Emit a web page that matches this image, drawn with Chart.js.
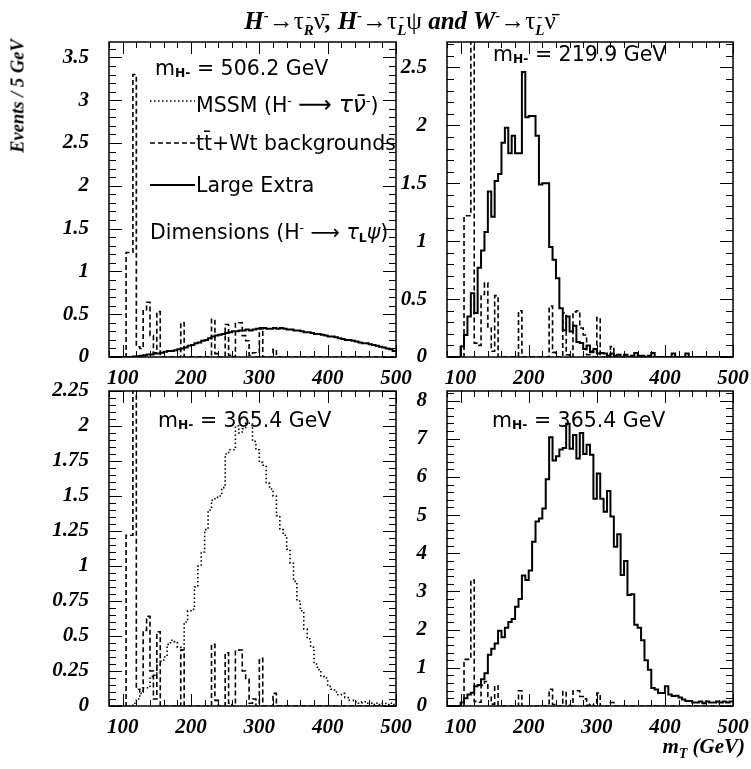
<!DOCTYPE html>
<html>
<head>
<meta charset="utf-8">
<script src="https://cdn.jsdelivr.net/npm/chart.js@4.4.0/dist/chart.umd.min.js"></script>
<style>
  body { margin: 0; background: #fff; }
  #wrap { position: relative; width: 751px; height: 769px; overflow: hidden; }
  canvas { position: absolute; left: 0; top: 0; }
  .serif { position: absolute; white-space: nowrap; font-family: "Liberation Serif", serif; font-weight: bold; font-style: italic; color: #000; z-index: 5; }
  .sans { position: absolute; white-space: nowrap; font-family: "DejaVu Sans", sans-serif; font-size: 20.5px; line-height: 22px; color: #000; z-index: 5; }
  .up { font-style: normal; font-weight: normal; }
  .ud { display: inline-flex; flex-direction: column; vertical-align: middle; font-size: 0.6em; line-height: 0.95; }
  .sans sub { font-size: 0.6em; font-weight: bold; vertical-align: -0.2em; }
  .sans sup { font-size: 0.6em; vertical-align: 0.6em; }
  .serif sup { font-size: 0.6em; vertical-align: 0.6em; }
  .big { font-size: 1.15em; line-height: 0; }
</style>
</head>
<body>
<div id="wrap">
  <canvas id="tl" width="751" height="769"></canvas>
  <canvas id="tr" width="751" height="769"></canvas>
  <canvas id="bl" width="751" height="769"></canvas>
  <canvas id="br" width="751" height="769"></canvas>

  <div class="serif" style="left:0;width:800px;text-align:center;top:0;font-size:25px;line-height:30px;">H<sup>-</sup><span class="up">→τ</span><span class="ud"><span class="up">-</span><span>R</span></span><span class="up">ν̄</span>, H<sup>-</sup><span class="up">→τ</span><span class="ud"><span class="up">-</span><span>L</span></span><span class="up">ψ</span> and W<sup>-</sup><span class="up">→τ</span><span class="ud"><span class="up">-</span><span>L</span></span><span class="up">ν̄</span></div>
  <div class="serif" style="left:18px;top:96px;font-size:18.5px;transform:translate(-50%,-50%) rotate(-90deg);">Events / 5 GeV</div>
  <div class="serif" style="right:6px;top:734px;font-size:21px;line-height:24px;">m<sub style="font-size:0.65em;">T</sub> (GeV)</div>

  <div class="sans" style="left:155px;top:57px;">m<sub>H-</sub> = 506.2 GeV</div>
  <div class="sans" style="left:196px;top:90px;">MSSM (H<sup>-</sup> <span class="big">⟶</span> <i class="big">τν̄</i><sup>-</sup>)</div>
  <div class="sans" style="left:196px;top:132px;">tt̄+Wt backgrounds</div>
  <div class="sans" style="left:196px;top:174px;">Large Extra</div>
  <div class="sans" style="left:150px;top:217px;">Dimensions (H<sup>-</sup> ⟶ <i>τ</i><sub>L</sub><i>ψ</i>)</div>
  <div class="sans" style="left:493px;top:43px;">m<sub>H-</sub> = 219.9 GeV</div>
  <div class="sans" style="left:158px;top:409px;">m<sub>H-</sub> = 365.4 GeV</div>
  <div class="sans" style="left:492px;top:409px;">m<sub>H-</sub> = 365.4 GeV</div>
</div>

<script>
// lower edges of the 5 GeV bins
const binLow = [
  80, 85, 90, 95, 100, 105, 110, 115, 120, 125,
  130, 135, 140, 145, 150, 155, 160, 165, 170, 175,
  180, 185, 190, 195, 200, 205, 210, 215, 220, 225,
  230, 235, 240, 245, 250, 255, 260, 265, 270, 275,
  280, 285, 290, 295, 300, 305, 310, 315, 320, 325,
  330, 335, 340, 345, 350, 355, 360, 365, 370, 375,
  380, 385, 390, 395, 400, 405, 410, 415, 420, 425,
  430, 435, 440, 445, 450, 455, 460, 465, 470, 475,
  480, 485, 490, 495
];
const xAxisMin = 80;
const xAxisMax = 500;
const xTicks = [100, 200, 300, 400, 500];

// tt + Wt backgrounds (dashed, same in every panel)
const ttWtBackground = [
  0, 0, 0, 0, 0, 1.22, 1.22, 3.3, 0.12, 0.1,
  0.54, 0.64, 0.25, 0.05, 0.53, 0, 0, 0, 0, 0,
  0, 0.4, 0, 0, 0, 0, 0, 0, 0, 0,
  0.44, 0.04, 0, 0, 0.38, 0.02, 0, 0.39, 0.4, 0.25,
  0.19, 0.02, 0.05, 0, 0.34, 0, 0, 0, 0.09, 0,
  0, 0, 0, 0, 0, 0, 0, 0, 0, 0,
  0, 0, 0, 0, 0, 0, 0, 0, 0, 0,
  0, 0, 0, 0, 0, 0, 0, 0, 0, 0,
  0, 0, 0, 0
];

// MSSM H- -> tau nu, m = 365.4 GeV (dotted, bottom left)
const mssm3654 = [
  0, 0, 0, 0, 0, 0, 0, 0.02, 0.05, 0.09,
  0.13, 0.13, 0.21, 0.22, 0.29, 0.32, 0.35, 0.44, 0.47, 0.46,
  0.42, 0.4, 0.6, 0.68, 0.69, 0.85, 1.0, 1.1, 1.26, 1.4,
  1.47, 1.49, 1.5, 1.56, 1.8, 1.83, 1.83, 2.0, 1.95, 1.98,
  2.02, 2.02, 1.89, 1.83, 1.74, 1.72, 1.59, 1.55, 1.5, 1.36,
  1.26, 1.22, 1.12, 1.02, 0.89, 0.75, 0.68, 0.55, 0.48, 0.42,
  0.3, 0.26, 0.21, 0.2, 0.14, 0.12, 0.1, 0.08, 0.09, 0.06,
  0.04, 0.04, 0.03, 0.02, 0.03, 0.02, 0.02, 0.01, 0.02, 0.01,
  0.02, 0.01, 0.02, 0.01
];

// Large extra dimensions H- -> tau_L psi (solid)
const led5062 = [
  0, 0, 0, 0, 0, 0, 0, 0.005, 0.01, 0.015,
  0.02, 0.03, 0.03, 0.04, 0.04, 0.05, 0.06, 0.07, 0.07, 0.08,
  0.09, 0.1, 0.11, 0.13, 0.14, 0.16, 0.17, 0.19, 0.2, 0.22,
  0.24, 0.25, 0.26, 0.27, 0.28, 0.29, 0.3, 0.3, 0.31, 0.31,
  0.32, 0.31, 0.32, 0.33, 0.33, 0.34, 0.33, 0.33, 0.34, 0.33,
  0.34, 0.33, 0.32, 0.32, 0.31, 0.31, 0.3, 0.29, 0.29, 0.28,
  0.27, 0.27, 0.26, 0.25, 0.24, 0.24, 0.23, 0.22, 0.21, 0.2,
  0.2, 0.19, 0.18, 0.17, 0.16, 0.16, 0.15, 0.14, 0.13, 0.12,
  0.11, 0.1, 0.09, 0.07
];
const led2199 = [
  0, 0, 0, 0, 0.09, 0.19, 0.35, 0.55, 0.38, 0.77,
  0.92, 1.08, 1.43, 1.21, 1.52, 1.58, 1.85, 1.98, 1.76, 1.91,
  1.76, 1.76, 2.46, 2.07, 2.08, 2.08, 1.91, 1.49, 1.5, 1.5,
  0.95, 0.84, 0.68, 0.42, 0.23, 0.35, 0.22, 0.27, 0.13, 0.12,
  0.07, 0.1, 0.04, 0.07, 0.03, 0.035, 0.03, 0.01, 0.03, 0.01,
  0.02, 0, 0.02, 0, 0.01, 0.035, 0.01, 0.01, 0, 0.01,
  0.035, 0, 0, 0, 0, 0, 0.03, 0, 0, 0,
  0.03, 0, 0, 0, 0, 0, 0, 0, 0, 0,
  0, 0, 0, 0
];
const led3654 = [
  0, 0, 0, 0, 0.09, 0.2, 0.3, 0.35, 0.52, 0.55,
  0.7, 0.86, 1.34, 1.5, 1.64, 1.97, 1.8, 2.05, 2.2, 2.28,
  2.6, 2.8, 3.42, 3.3, 3.55, 4.3, 4.83, 4.91, 5.17, 5.94,
  7.04, 6.43, 6.54, 6.72, 6.76, 7.39, 6.74, 7.1, 6.48, 7.15,
  6.6, 6.84, 6.58, 5.43, 6.09, 5.43, 5.09, 5.63, 4.96, 4.17,
  4.5, 3.43, 3.8, 2.91, 2.93, 2.13, 2.05, 1.72, 1.2, 0.95,
  0.47, 0.43, 0.34, 0.34, 0.52, 0.3, 0.26, 0.27, 0.22, 0.17,
  0.13, 0.13, 0.09, 0.09, 0.12, 0.07, 0.12, 0.09, 0.09, 0.12,
  0.09, 0.12, 0.09, 0.12
];

const topLeftYTicks = [0, 0.5, 1, 1.5, 2, 2.5, 3, 3.5];
const topRightYTicks = [0, 0.5, 1, 1.5, 2, 2.5];
const bottomLeftYTicks = [0, 0.25, 0.5, 0.75, 1, 1.25, 1.5, 1.75, 2, 2.25];
const bottomRightYTicks = [0, 1, 2, 3, 4, 5, 6, 7, 8];

const tickFont = { family: "Liberation Serif", size: 21, style: "italic", weight: "bold" };

function steps(values) {
  const pts = binLow.map((x, i) => ({ x: x, y: values[i] }));
  pts.push({ x: xAxisMax, y: values[values.length - 1] });
  return pts;
}

function line(values, kind) {
  const ds = {
    data: steps(values),
    borderColor: "#000",
    borderWidth: 2,
    pointRadius: 0,
    fill: false,
    stepped: true,
    tension: 0,
  };
  if (kind === "dashed") {
    ds.borderDash = [5, 3];
    ds.borderWidth = 1.6;
  } else if (kind === "dotted") {
    ds.borderDash = [1.5, 2.5];
    ds.borderWidth = 1.6;
  }
  return ds;
}

// frame plus inward ticks on all four sides (PAW style)
const framePlugin = {
  id: "frame",
  afterDraw(chart, args, opts) {
    const { ctx, chartArea: a, scales } = chart;
    const x = scales.x, y = scales.y;
    ctx.save();
    ctx.strokeStyle = "#000";
    ctx.lineWidth = 1;
    ctx.beginPath();
    for (let v = xAxisMin; v <= xAxisMax; v += 20) {
      const px = Math.round(x.getPixelForValue(v)) + 0.5;
      const len = v % 100 === 0 ? 12 : 6;
      ctx.moveTo(px, a.bottom); ctx.lineTo(px, a.bottom - len);
      ctx.moveTo(px, a.top); ctx.lineTo(px, a.top + len);
    }
    const n = Math.floor(y.max / opts.minor + 1e-6);
    for (let k = 0; k <= n; k++) {
      const py = Math.round(y.getPixelForValue(k * opts.minor)) + 0.5;
      const len = k % opts.perMajor === 0 ? 13 : 7;
      ctx.moveTo(a.left, py); ctx.lineTo(a.left + len, py);
      ctx.moveTo(a.right, py); ctx.lineTo(a.right - len, py);
    }
    ctx.stroke();
    ctx.lineWidth = 1.5;
    ctx.strokeRect(a.left, a.top, a.right - a.left, a.bottom - a.top);
    ctx.restore();
  }
};

// line samples for the legend of the first panel
const legendSamples = {
  id: "legendSamples",
  afterDraw(chart) {
    const ctx = chart.ctx;
    const rows = [
      { y: 101, dash: [1.5, 2.5], w: 1.6 },
      { y: 143, dash: [5, 3], w: 1.6 },
      { y: 185, dash: [], w: 2 },
    ];
    ctx.save();
    ctx.strokeStyle = "#000";
    rows.forEach((r) => {
      ctx.setLineDash(r.dash);
      ctx.lineWidth = r.w;
      ctx.beginPath();
      ctx.moveTo(150, r.y);
      ctx.lineTo(195, r.y);
      ctx.stroke();
    });
    ctx.restore();
  }
};

function makePanel(id, area, yMax, yTicks, minor, perMajor, datasets, extra) {
  const yWidth = 60, xHeight = 30;
  return new Chart(document.getElementById(id), {
    type: "line",
    data: { datasets: datasets },
    plugins: extra ? [framePlugin, extra] : [framePlugin],
    options: {
      responsive: false,
      animation: false,
      devicePixelRatio: 1,
      layout: {
        padding: {
          left: area.left - yWidth,
          top: area.top,
          right: 751 - area.right,
          bottom: 769 - area.bottom - xHeight,
        },
      },
      plugins: {
        legend: { display: false },
        tooltip: { enabled: false },
        frame: { minor: minor, perMajor: perMajor },
      },
      scales: {
        x: {
          type: "linear",
          min: xAxisMin,
          max: xAxisMax,
          grid: { display: false },
          border: { display: false },
          afterFit: (s) => { s.height = xHeight; },
          afterBuildTicks: (s) => { s.ticks = xTicks.map((v) => ({ value: v })); },
          ticks: { font: tickFont, color: "#000", padding: 1, maxRotation: 0, autoSkip: false, callback: (v) => String(v) },
        },
        y: {
          type: "linear",
          min: 0,
          max: yMax,
          grid: { display: false },
          border: { display: false },
          afterFit: (s) => { s.width = yWidth; },
          afterBuildTicks: (s) => { s.ticks = yTicks.map((v) => ({ value: v })); },
          ticks: { font: tickFont, color: "#000", padding: 12, autoSkip: false, callback: (v) => String(v) },
        },
      },
    },
  });
}

makePanel("tl", { left: 109, right: 396, top: 42, bottom: 357 }, 3.68, topLeftYTicks, 0.1, 5,
  [line(ttWtBackground, "dashed"), line(led5062, "solid")], legendSamples);
makePanel("tr", { left: 447, right: 733, top: 42, bottom: 357 }, 2.72, topRightYTicks, 0.1, 5,
  [line(ttWtBackground, "dashed"), line(led2199, "solid")]);
makePanel("bl", { left: 109, right: 396, top: 391, bottom: 706 }, 2.25, bottomLeftYTicks, 0.05, 5,
  [line(ttWtBackground, "dashed"), line(mssm3654, "dotted")]);
makePanel("br", { left: 447, right: 733, top: 391, bottom: 706 }, 8.25, bottomRightYTicks, 0.2, 5,
  [line(ttWtBackground, "dashed"), line(led3654, "solid")]);
</script>
</body>
</html>
